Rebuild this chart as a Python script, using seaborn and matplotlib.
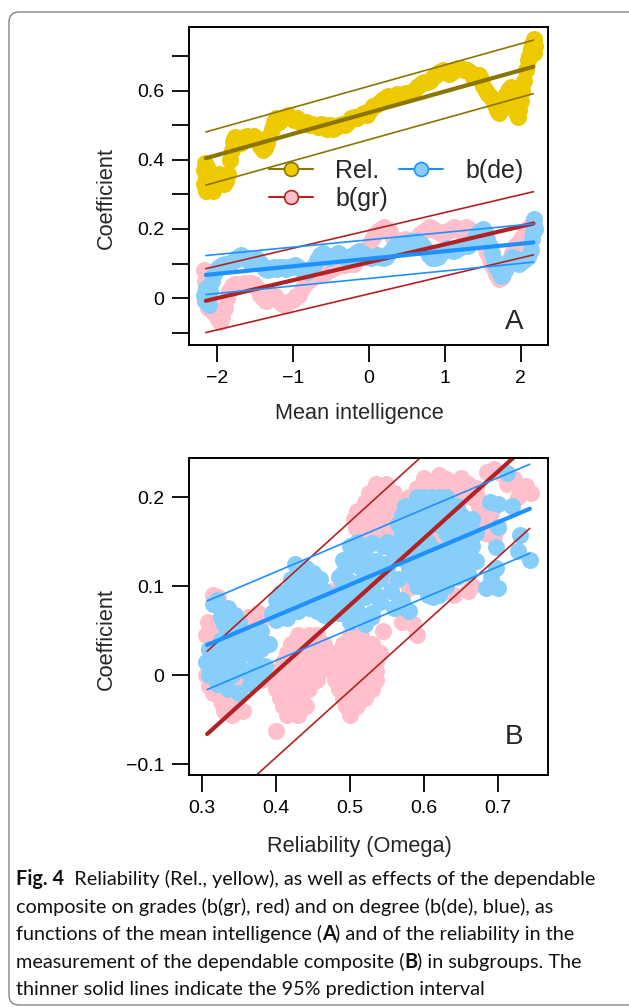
import seaborn as sns
import matplotlib.pyplot as plt
from matplotlib.lines import Line2D
from matplotlib.patches import FancyBboxPatch

# ---------------- panel A: coefficients vs mean intelligence ----------------
rel_pts = [(-2.17, 0.37), (-2.17, 0.33), (-2.16, 0.39), (-2.15, 0.31), (-2.14, 0.35), (-2.13, 0.38),
           (-2.12, 0.32), (-2.10, 0.36), (-2.08, 0.34), (-2.05, 0.31), (-2.03, 0.33), (-2.00, 0.345),
           (-1.97, 0.36), (-1.94, 0.35), (-1.91, 0.33), (-1.88, 0.34), (-1.86, 0.36), (-1.83, 0.40),
           (-1.81, 0.43), (-1.79, 0.455), (-1.76, 0.465), (-1.72, 0.46), (-1.68, 0.45), (-1.64, 0.465),
           (-1.60, 0.47), (-1.56, 0.46), (-1.52, 0.47), (-1.48, 0.455), (-1.44, 0.44), (-1.40, 0.43),
           (-1.37, 0.435), (-1.34, 0.45), (-1.31, 0.47), (-1.28, 0.49), (-1.25, 0.51), (-1.22, 0.52),
           (-1.18, 0.51), (-1.15, 0.52), (-1.11, 0.525), (-1.07, 0.53), (-1.03, 0.52), (-0.99, 0.515),
           (-0.95, 0.52), (-0.91, 0.51), (-0.87, 0.505), (-0.83, 0.51), (-0.79, 0.50), (-0.75, 0.505),
           (-0.71, 0.50), (-0.67, 0.495), (-0.63, 0.505), (-0.59, 0.50), (-0.55, 0.49), (-0.51, 0.50),
           (-0.47, 0.49), (-0.43, 0.495), (-0.39, 0.50), (-0.35, 0.505), (-0.31, 0.50), (-0.27, 0.51),
           (-0.23, 0.52), (-0.19, 0.525), (-0.15, 0.52), (-0.11, 0.53), (-0.07, 0.535), (-0.03, 0.53),
           (0.01, 0.545), (0.05, 0.555), (0.09, 0.56), (0.13, 0.565), (0.17, 0.575), (0.21, 0.58),
           (0.25, 0.585), (0.29, 0.58), (0.33, 0.585), (0.37, 0.59), (0.41, 0.585), (0.45, 0.59),
           (0.49, 0.595), (0.53, 0.59), (0.57, 0.595), (0.61, 0.605), (0.65, 0.615), (0.69, 0.62),
           (0.73, 0.625), (0.77, 0.625), (0.81, 0.63), (0.85, 0.64), (0.89, 0.645), (0.93, 0.655),
           (0.97, 0.66), (1.01, 0.655), (1.05, 0.65), (1.09, 0.655), (1.13, 0.66), (1.17, 0.665),
           (1.21, 0.665), (1.25, 0.66), (1.29, 0.66), (1.33, 0.655), (1.37, 0.64), (1.41, 0.645),
           (1.45, 0.645), (1.48, 0.635), (1.51, 0.615), (1.54, 0.60), (1.57, 0.59), (1.60, 0.585),
           (1.63, 0.575), (1.66, 0.56), (1.69, 0.545), (1.72, 0.535), (1.75, 0.55), (1.78, 0.57),
           (1.81, 0.59), (1.84, 0.605), (1.87, 0.61), (1.90, 0.59), (1.92, 0.565), (1.94, 0.54),
           (1.96, 0.525), (1.98, 0.545), (2.00, 0.57), (2.02, 0.60), (2.05, 0.63), (2.07, 0.66),
           (2.09, 0.69), (2.11, 0.70), (2.13, 0.72), (2.15, 0.735), (2.17, 0.75), (2.18, 0.71), (2.19, 0.73)]

gr_pts = [(-2.17, 0.08), (-2.16, 0.05), (-2.15, 0.02), (-2.14, -0.01), (-2.12, -0.03), (-2.10, 0.0),
          (-2.08, -0.02), (-2.05, -0.04), (-2.02, -0.05), (-1.99, -0.06), (-1.96, -0.07), (-1.93, -0.055),
          (-1.90, -0.03), (-1.87, 0.0), (-1.84, 0.02), (-1.80, 0.035), (-1.76, 0.04), (-1.72, 0.035),
          (-1.68, 0.04), (-1.64, 0.045), (-1.60, 0.04), (-1.56, 0.045), (-1.52, 0.04), (-1.48, 0.03),
          (-1.44, 0.01), (-1.40, 0.0), (-1.36, -0.01), (-1.32, 0.0), (-1.28, 0.01), (-1.24, 0.005),
          (-1.20, -0.005), (-1.16, -0.015), (-1.12, -0.02), (-1.08, -0.015), (-1.04, -0.01), (-1.00, -0.005),
          (-0.96, 0.005), (-0.92, 0.01), (-0.88, 0.025), (-0.84, 0.04), (-0.80, 0.05), (-0.76, 0.055),
          (-0.72, 0.065), (-0.68, 0.07), (-0.64, 0.075), (-0.60, 0.07), (-0.56, 0.075), (-0.52, 0.08),
          (-0.48, 0.085), (-0.44, 0.09), (-0.40, 0.095), (-0.36, 0.10), (-0.32, 0.095), (-0.28, 0.10),
          (-0.24, 0.105), (-0.20, 0.10), (-0.16, 0.11), (-0.12, 0.12), (-0.08, 0.13), (-0.04, 0.14),
          (0.00, 0.155), (0.04, 0.17), (0.08, 0.185), (0.12, 0.195), (0.16, 0.20), (0.20, 0.205),
          (0.24, 0.20), (0.28, 0.19), (0.32, 0.175), (0.36, 0.165), (0.40, 0.16), (0.44, 0.165),
          (0.48, 0.17), (0.52, 0.165), (0.56, 0.16), (0.60, 0.165), (0.64, 0.175), (0.68, 0.185),
          (0.72, 0.195), (0.76, 0.20), (0.80, 0.205), (0.84, 0.20), (0.88, 0.195), (0.92, 0.19),
          (0.96, 0.185), (1.00, 0.19), (1.04, 0.195), (1.08, 0.20), (1.12, 0.205), (1.16, 0.20),
          (1.20, 0.195), (1.24, 0.20), (1.28, 0.205), (1.32, 0.20), (1.36, 0.195), (1.40, 0.19),
          (1.44, 0.185), (1.48, 0.17), (1.52, 0.15), (1.56, 0.13), (1.60, 0.11), (1.64, 0.09),
          (1.68, 0.07), (1.72, 0.055), (1.76, 0.06), (1.80, 0.08), (1.84, 0.11), (1.88, 0.13),
          (1.92, 0.15), (1.96, 0.16), (2.00, 0.17), (2.04, 0.185), (2.08, 0.20), (2.12, 0.21),
          (2.16, 0.22), (2.18, 0.225)]

de_pts = [(-2.17, 0.01), (-2.16, -0.01), (-2.15, 0.03), (-2.13, 0.0), (-2.11, -0.02), (-2.09, 0.02),
          (-2.07, 0.05), (-2.04, 0.07), (-2.01, 0.08), (-1.97, 0.09), (-1.93, 0.095), (-1.89, 0.10),
          (-1.85, 0.10), (-1.81, 0.105), (-1.77, 0.11), (-1.73, 0.12), (-1.69, 0.125), (-1.65, 0.12),
          (-1.61, 0.11), (-1.57, 0.105), (-1.53, 0.11), (-1.49, 0.115), (-1.45, 0.105), (-1.41, 0.095),
          (-1.37, 0.085), (-1.33, 0.08), (-1.29, 0.085), (-1.25, 0.09), (-1.21, 0.085), (-1.17, 0.09),
          (-1.13, 0.09), (-1.09, 0.085), (-1.05, 0.09), (-1.01, 0.09), (-0.97, 0.095), (-0.93, 0.09),
          (-0.89, 0.085), (-0.85, 0.08), (-0.81, 0.075), (-0.77, 0.08), (-0.73, 0.09), (-0.69, 0.11),
          (-0.65, 0.125), (-0.61, 0.13), (-0.57, 0.12), (-0.53, 0.115), (-0.49, 0.12), (-0.45, 0.125),
          (-0.41, 0.13), (-0.37, 0.125), (-0.33, 0.12), (-0.29, 0.115), (-0.25, 0.12), (-0.21, 0.125),
          (-0.17, 0.13), (-0.13, 0.135), (-0.09, 0.13), (-0.05, 0.125), (-0.01, 0.12), (0.03, 0.115),
          (0.07, 0.12), (0.11, 0.125), (0.15, 0.12), (0.19, 0.115), (0.23, 0.12), (0.27, 0.13),
          (0.31, 0.14), (0.35, 0.15), (0.39, 0.155), (0.43, 0.155), (0.47, 0.16), (0.51, 0.16),
          (0.55, 0.165), (0.59, 0.16), (0.63, 0.165), (0.67, 0.16), (0.71, 0.15), (0.75, 0.14),
          (0.79, 0.125), (0.83, 0.115), (0.87, 0.115), (0.91, 0.12), (0.95, 0.13), (0.99, 0.14),
          (1.03, 0.145), (1.07, 0.14), (1.11, 0.135), (1.15, 0.14), (1.19, 0.145), (1.23, 0.15),
          (1.27, 0.155), (1.31, 0.15), (1.35, 0.16), (1.39, 0.17), (1.43, 0.185), (1.47, 0.195),
          (1.50, 0.20), (1.53, 0.19), (1.56, 0.17), (1.59, 0.15), (1.62, 0.13), (1.65, 0.11),
          (1.68, 0.09), (1.71, 0.075), (1.74, 0.065), (1.77, 0.07), (1.80, 0.08), (1.83, 0.095),
          (1.86, 0.11), (1.89, 0.12), (1.92, 0.115), (1.95, 0.105), (1.98, 0.10), (2.01, 0.105),
          (2.04, 0.11), (2.07, 0.115), (2.10, 0.12), (2.13, 0.14), (2.15, 0.17), (2.16, 0.19),
          (2.17, 0.21), (2.18, 0.23), (2.19, 0.20)]

# fitted lines and 95% prediction intervals (ends)
a_ends = [-2.148, 2.168]
rel_fit, rel_hi, rel_lo = [0.405, 0.670], [0.481, 0.747], [0.327, 0.592]
gr_fit_a, gr_hi_a, gr_lo_a = [-0.008, 0.216], [0.085, 0.308], [-0.100, 0.125]
de_fit_a, de_hi_a, de_lo_a = [0.067, 0.161], [0.123, 0.215], [0.010, 0.104]

a_xticks = [-2, -1, 0, 1, 2]
a_xticklabels = ["\u22122", "\u22121", "0", "1", "2"]
a_yticks = [-0.1, 0.0, 0.1, 0.2, 0.3, 0.4, 0.5, 0.6, 0.7]
a_yticklabels = ["", "0", "", "0.2", "", "0.4", "", "0.6", ""]

# ---------------- panel B: coefficients vs reliability ----------------
gr_pts_b = [
    # upper left
    (0.305, 0.045), (0.308, 0.06), (0.315, 0.09), (0.322, 0.088), (0.31, 0.03), (0.318, 0.05),
    (0.325, 0.072), (0.33, 0.05), (0.34, 0.065), (0.345, 0.045), (0.35, 0.03), (0.355, 0.05),
    (0.362, 0.065), (0.365, 0.04), (0.372, 0.055), (0.375, 0.07), (0.378, 0.06), (0.305, 0.0),
    (0.31, -0.012), (0.315, -0.02), (0.38, -0.005),
    # lower left
    (0.325, -0.03), (0.33, -0.04), (0.335, -0.025), (0.34, -0.045), (0.345, -0.035), (0.35, -0.02),
    (0.355, -0.04), (0.345, -0.008), (0.335, -0.005),
    # lower middle cloud
    (0.43, 0.045), (0.445, 0.045), (0.455, 0.045), (0.50, 0.045), (0.515, 0.045),
    (0.42, 0.035), (0.435, 0.035), (0.45, 0.035), (0.465, 0.035), (0.49, 0.035), (0.505, 0.035),
    (0.52, 0.035), (0.53, 0.035),
    (0.415, 0.025), (0.43, 0.025), (0.445, 0.025), (0.46, 0.025), (0.475, 0.025), (0.485, 0.025),
    (0.50, 0.025), (0.515, 0.025), (0.53, 0.025), (0.54, 0.025),
    (0.41, 0.015), (0.425, 0.015), (0.44, 0.015), (0.455, 0.015), (0.47, 0.015), (0.48, 0.015),
    (0.495, 0.015), (0.51, 0.015), (0.525, 0.015), (0.535, 0.015),
    (0.40, 0.005), (0.415, 0.005), (0.43, 0.005), (0.445, 0.005), (0.46, 0.005), (0.475, 0.005),
    (0.49, 0.005), (0.505, 0.005), (0.52, 0.005), (0.535, 0.005),
    (0.395, -0.005), (0.41, -0.005), (0.425, -0.005), (0.44, -0.005), (0.455, -0.005), (0.48, -0.005),
    (0.495, -0.005), (0.51, -0.005), (0.525, -0.005), (0.535, -0.005),
    (0.40, -0.015), (0.415, -0.015), (0.43, -0.015), (0.445, -0.015), (0.485, -0.015), (0.50, -0.015),
    (0.515, -0.015), (0.53, -0.015),
    (0.405, -0.025), (0.42, -0.025), (0.435, -0.025), (0.49, -0.025), (0.505, -0.025), (0.52, -0.025),
    (0.41, -0.035), (0.425, -0.035), (0.44, -0.035), (0.495, -0.035), (0.51, -0.035),
    (0.415, -0.045), (0.43, -0.045), (0.50, -0.045),
    (0.40, -0.063),
    # upper cloud
    (0.535, 0.215), (0.548, 0.215),
    (0.525, 0.205), (0.537, 0.205), (0.55, 0.205), (0.56, 0.205),
    (0.52, 0.195), (0.532, 0.195), (0.545, 0.195), (0.557, 0.195), (0.568, 0.195),
    (0.51, 0.185), (0.522, 0.185), (0.535, 0.185), (0.548, 0.185), (0.56, 0.185), (0.572, 0.185),
    (0.505, 0.175), (0.515, 0.175), (0.528, 0.175), (0.54, 0.175), (0.553, 0.175), (0.565, 0.175),
    (0.508, 0.165), (0.52, 0.165), (0.533, 0.165), (0.546, 0.165), (0.558, 0.165),
    (0.518, 0.155), (0.53, 0.155), (0.545, 0.155),
    (0.59, 0.21), (0.60, 0.222), (0.61, 0.215), (0.62, 0.225), (0.63, 0.22), (0.64, 0.215),
    (0.65, 0.222), (0.66, 0.215), (0.67, 0.21), (0.605, 0.205), (0.625, 0.205), (0.645, 0.205),
    (0.663, 0.20), (0.58, 0.20), (0.575, 0.19),
    (0.675, 0.19), (0.68, 0.175), (0.682, 0.16), (0.69, 0.182), (0.70, 0.165), (0.695, 0.155),
    (0.672, 0.20), (0.685, 0.228), (0.695, 0.232), (0.705, 0.226), (0.712, 0.215), (0.722, 0.22),
    (0.73, 0.207), (0.738, 0.212), (0.745, 0.205), (0.727, 0.20),
    # partly hidden behind the blue cloud
    (0.61, 0.15), (0.62, 0.16), (0.62, 0.145), (0.58, 0.12), (0.60, 0.11), (0.64, 0.13),
    (0.56, 0.145), (0.55, 0.11), (0.665, 0.10), (0.58, 0.098), (0.475, 0.095), (0.48, 0.08),
    (0.53, 0.065), (0.545, 0.05), (0.57, 0.06), (0.585, 0.058), (0.59, 0.045), (0.66, 0.095),
    (0.64, 0.09)]

de_pts_b = [
    # left low cluster
    (0.305, 0.015), (0.31, 0.0), (0.31, 0.03), (0.315, 0.02), (0.32, 0.005), (0.32, -0.01),
    (0.325, 0.025), (0.33, 0.04), (0.33, 0.01), (0.335, -0.015), (0.34, 0.0), (0.34, 0.02),
    (0.345, 0.035), (0.35, 0.01), (0.35, -0.02), (0.355, 0.025), (0.36, 0.045), (0.36, 0.005),
    (0.365, -0.01), (0.37, 0.02), (0.37, 0.04), (0.375, 0.0), (0.38, 0.03), (0.38, 0.05),
    (0.385, 0.01), (0.39, 0.035), (0.383, 0.002), (0.325, 0.04), (0.34, 0.045), (0.35, 0.045),
    (0.36, 0.03), (0.37, 0.005), (0.325, -0.005),
    (0.315, 0.08), (0.32, 0.085), (0.325, 0.065), (0.33, 0.058), (0.335, 0.075), (0.34, 0.055),
    (0.345, 0.068), (0.35, 0.06), (0.355, 0.05),
    # second cluster
    (0.395, 0.07), (0.40, 0.085), (0.40, 0.062), (0.405, 0.092), (0.41, 0.075), (0.415, 0.095),
    (0.415, 0.064), (0.42, 0.108), (0.42, 0.082), (0.425, 0.125), (0.425, 0.092), (0.43, 0.115),
    (0.43, 0.072), (0.435, 0.105), (0.435, 0.085), (0.44, 0.12), (0.44, 0.095), (0.445, 0.11),
    (0.445, 0.075), (0.45, 0.115), (0.45, 0.09), (0.455, 0.10), (0.455, 0.072), (0.46, 0.108),
    (0.46, 0.085), (0.465, 0.095), (0.465, 0.068), (0.47, 0.08), (0.405, 0.078), (0.41, 0.088),
    (0.42, 0.095), (0.43, 0.09), (0.44, 0.108), (0.45, 0.10), (0.455, 0.085), (0.435, 0.098),
    (0.425, 0.108),
    # third cluster
    (0.48, 0.09), (0.485, 0.11), (0.485, 0.07), (0.49, 0.13), (0.49, 0.10), (0.495, 0.08),
    (0.495, 0.12), (0.50, 0.145), (0.50, 0.105), (0.50, 0.06), (0.505, 0.09), (0.51, 0.125),
    (0.51, 0.15), (0.51, 0.072), (0.515, 0.105), (0.52, 0.135), (0.52, 0.088), (0.52, 0.058),
    (0.525, 0.115), (0.53, 0.148), (0.53, 0.098), (0.53, 0.07), (0.535, 0.128), (0.54, 0.108),
    (0.54, 0.082), (0.545, 0.145), (0.55, 0.12), (0.555, 0.095), (0.56, 0.135), (0.56, 0.075),
    (0.565, 0.108), (0.57, 0.085), (0.55, 0.15), (0.528, 0.065), (0.49, 0.115), (0.505, 0.135),
    (0.515, 0.12), (0.525, 0.10), (0.535, 0.09), (0.545, 0.125), (0.505, 0.075), (0.495, 0.095),
    # main cloud
    (0.59, 0.20), (0.60, 0.20), (0.61, 0.20), (0.62, 0.20), (0.63, 0.20),
    (0.575, 0.19), (0.585, 0.19), (0.595, 0.19), (0.605, 0.19), (0.615, 0.19), (0.625, 0.19),
    (0.635, 0.19), (0.645, 0.19),
    (0.57, 0.18), (0.58, 0.18), (0.59, 0.18), (0.60, 0.18), (0.61, 0.18), (0.62, 0.18),
    (0.63, 0.18), (0.64, 0.18), (0.65, 0.18),
    (0.565, 0.17), (0.575, 0.17), (0.585, 0.17), (0.595, 0.17), (0.605, 0.17), (0.615, 0.17),
    (0.625, 0.17), (0.635, 0.17), (0.645, 0.17), (0.655, 0.17),
    (0.57, 0.16), (0.58, 0.16), (0.59, 0.16), (0.60, 0.16), (0.63, 0.16), (0.64, 0.16),
    (0.65, 0.16), (0.66, 0.16),
    (0.565, 0.15), (0.575, 0.15), (0.585, 0.15), (0.595, 0.15), (0.605, 0.15), (0.635, 0.15),
    (0.645, 0.15), (0.655, 0.15),
    (0.57, 0.14), (0.58, 0.14), (0.59, 0.14), (0.60, 0.14), (0.61, 0.14), (0.62, 0.14),
    (0.63, 0.14), (0.64, 0.14), (0.65, 0.14),
    (0.575, 0.13), (0.585, 0.13), (0.595, 0.13), (0.605, 0.13), (0.615, 0.13), (0.625, 0.13),
    (0.635, 0.13), (0.645, 0.13), (0.655, 0.13),
    (0.58, 0.12), (0.59, 0.12), (0.60, 0.12), (0.61, 0.12), (0.62, 0.12), (0.63, 0.12),
    (0.64, 0.12), (0.65, 0.12),
    (0.585, 0.11), (0.595, 0.11), (0.605, 0.11), (0.615, 0.11), (0.625, 0.11), (0.635, 0.11),
    (0.645, 0.11),
    (0.59, 0.10), (0.60, 0.10), (0.61, 0.10), (0.62, 0.10), (0.63, 0.10),
    (0.605, 0.09), (0.62, 0.09),
    (0.575, 0.075), (0.568, 0.083), (0.58, 0.072), (0.612, 0.088),
    # right side
    (0.665, 0.175), (0.665, 0.145), (0.67, 0.16), (0.67, 0.128), (0.66, 0.115),
    (0.689, 0.195), (0.70, 0.192), (0.719, 0.19), (0.70, 0.167), (0.712, 0.227),
    (0.697, 0.144), (0.697, 0.12), (0.684, 0.098), (0.70, 0.098), (0.69, 0.11),
    (0.73, 0.157), (0.727, 0.14), (0.743, 0.129)]

b_ends = [0.307, 0.743]
gr_fit_b, gr_hi_b, gr_lo_b = [-0.066, 0.261], [0.027, 0.356], [-0.162, 0.165]
de_fit_b, de_hi_b, de_lo_b = [0.034, 0.187], [0.0835, 0.237], [-0.016, 0.137]

b_xticks = [0.3, 0.4, 0.5, 0.6, 0.7]
b_xticklabels = ["0.3", "0.4", "0.5", "0.6", "0.7"]
b_yticks = [-0.1, 0.0, 0.1, 0.2]
b_yticklabels = ["\u22120.1", "0", "0.1", "0.2"]

YELLOW, OLIVE = "#EEC900", "#8B7500"
PINK, RED = "#FFC0CB", "#B22222"
LBLUE, BLUE = "#87CEFA", "#1E90FF"

sns.set_theme(style="ticks")
plt.rcParams["font.family"] = ["Liberation Sans", "DejaVu Sans"]
plt.rcParams["axes.edgecolor"] = "black"
plt.rcParams["axes.linewidth"] = 1.4
plt.rcParams["xtick.color"] = "black"
plt.rcParams["ytick.color"] = "black"

fig = plt.figure(figsize=(6.29, 10.08), dpi=100)
ax_a = fig.add_axes([189 / 629, 1 - 345 / 1008, 359 / 629, 318 / 1008])
ax_b = fig.add_axes([189 / 629, 1 - 775 / 1008, 359 / 629, 317 / 1008])

S = 150


def dots(ax, pts, color):
    xs = [p[0] for p in pts]
    ys = [p[1] for p in pts]
    sns.scatterplot(x=xs, y=ys, color=color, s=S, linewidth=0, ax=ax, legend=False)


def band(ax, ends, fit, hi, lo, color):
    sns.lineplot(x=ends, y=hi, color=color, linewidth=1.2, ax=ax)
    sns.lineplot(x=ends, y=lo, color=color, linewidth=1.2, ax=ax)
    sns.lineplot(x=ends, y=fit, color=color, linewidth=3.0, ax=ax)


# panel A
dots(ax_a, rel_pts, YELLOW)
dots(ax_a, gr_pts, PINK)
dots(ax_a, de_pts, LBLUE)
band(ax_a, a_ends, rel_fit, rel_hi, rel_lo, OLIVE)
band(ax_a, a_ends, gr_fit_a, gr_hi_a, gr_lo_a, RED)
band(ax_a, a_ends, de_fit_a, de_hi_a, de_lo_a, BLUE)

# panel B
dots(ax_b, gr_pts_b, PINK)
dots(ax_b, de_pts_b, LBLUE)
band(ax_b, b_ends, gr_fit_b, gr_hi_b, gr_lo_b, RED)
band(ax_b, b_ends, de_fit_b, de_hi_b, de_lo_b, BLUE)

ax_a.set(xlim=(-2.37, 2.36), ylim=(-0.136, 0.785))
ax_b.set(xlim=(0.2824, 0.7676), ylim=(-0.112, 0.244))
ax_a.set_xticks(a_xticks, a_xticklabels)
ax_a.set_yticks(a_yticks, a_yticklabels)
ax_b.set_xticks(b_xticks, b_xticklabels)
ax_b.set_yticks(b_yticks, b_yticklabels)

for ax, xl, lx, ly, xly in [(ax_a, "Mean intelligence", -0.231, 0.462, -0.214),
                            (ax_b, "Reliability (Omega)", -0.231, 0.429, -0.227)]:
    ax.tick_params(direction="out", length=12, width=1.3, labelsize=14, pad=6)
    for sp in ax.spines.values():
        sp.set_visible(True)
        sp.set_linewidth(1.4)
    ax.set_xlabel(xl, fontsize=15.7)
    ax.set_ylabel("Coefficient", fontsize=15.7)
    ax.yaxis.set_label_coords(lx, ly)
    ax.yaxis.label.set_va("center")
    ax.xaxis.set_label_coords(0.474, xly)
    ax.xaxis.label.set_va("center")

ax_a.text(0.905, 0.072, "A", transform=ax_a.transAxes, ha="center", va="center", fontsize=20)
ax_b.text(0.905, 0.12, "B", transform=ax_b.transAxes, ha="center", va="center", fontsize=20)

handles = [Line2D([0], [0], color=OLIVE, lw=1.5, marker="o", ms=10, mfc=YELLOW, mec=OLIVE, mew=1.2),
           Line2D([0], [0], color=RED, lw=1.5, marker="o", ms=10, mfc=PINK, mec=RED, mew=1.2),
           Line2D([0], [0], color=BLUE, lw=1.5, marker="o", ms=10, mfc=LBLUE, mec=BLUE, mew=1.2)]
ax_a.legend(handles, ["Rel.", "b(gr)", "b(de)"], ncol=2, loc="upper left",
            bbox_to_anchor=(0.223, 0.585), frameon=False, fontsize=18,
            handlelength=1.75, handletextpad=0.9, columnspacing=0.45,
            labelspacing=0.15, borderpad=0, borderaxespad=0)

# rounded frame around the figure
frame = FancyBboxPatch((0.09, 0.03), 6.6, 9.93, boxstyle="round,pad=0,rounding_size=0.1",
                       transform=fig.dpi_scale_trans, fill=False, edgecolor="#777777", lw=0.9)
fig.patches.append(frame)

# caption, drawn run by run so bold parts can sit inline
cap_lines = [
    [("Fig. 4", "bold"), ("  Reliability (Rel., yellow), as well as effects of the dependable", "normal")],
    [("composite on grades (b(gr), red) and on degree (b(de), blue), as", "normal")],
    [("functions of the mean intelligence (", "normal"), ("A", "bold"),
     (") and of the reliability in the", "normal")],
    [("measurement of the dependable composite (", "normal"), ("B", "bold"),
     (") in subgroups. The", "normal")],
    [("thinner solid lines indicate the 95% prediction interval", "normal")],
]
cap_font = ["Lato", "DejaVu Sans"]
renderer = fig.canvas.get_renderer()


def run_width(s, w, size):
    t = fig.text(0, 0, s, fontsize=size, fontweight=w, family=cap_font)
    wd = t.get_window_extent(renderer).width
    t.remove()
    return wd


first_w = sum(run_width(s, w, 14) for s, w in cap_lines[0])
cap_size = 14 * 582 / first_w
baselines = [885, 912.6, 940.2, 967.8, 995.4]
for runs, yb in zip(cap_lines, baselines):
    xpix = 15.5
    for s, w in runs:
        fig.text(xpix / 629, 1 - yb / 1008, s, fontsize=cap_size, fontweight=w,
                 family=cap_font, va="baseline", ha="left", color="#111111")
        xpix += run_width(s, w, cap_size)

fig.savefig("out.png", dpi=100)
